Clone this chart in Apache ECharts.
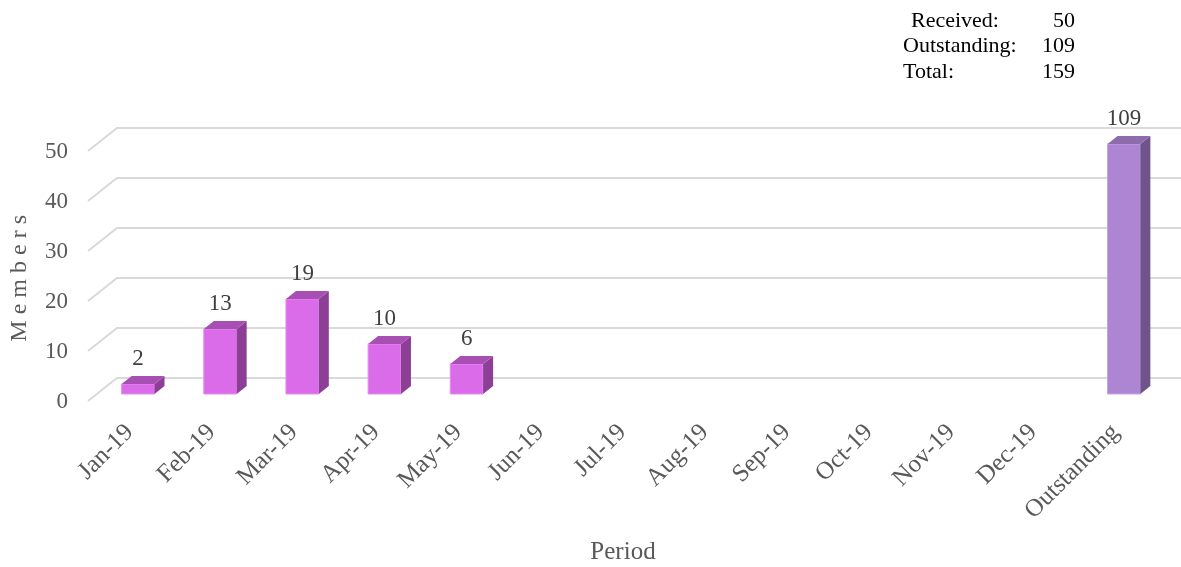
<!DOCTYPE html>
<html>
<head>
<meta charset="utf-8">
<script src="https://cdn.jsdelivr.net/npm/echarts@6/dist/echarts.min.js"></script>
<style>
    html, body { margin: 0; padding: 0; background: #fff; }
    #chart { width: 1181px; height: 567px; }
</style>
</head>
<body>
<div id="chart"></div>
<script>
// Data
var periods = ['Jan-19', 'Feb-19', 'Mar-19', 'Apr-19', 'May-19', 'Jun-19', 'Jul-19',
    'Aug-19', 'Sep-19', 'Oct-19', 'Nov-19', 'Dec-19', 'Outstanding'];
var receivedValues = [2, 13, 19, 10, 6, null, null, null, null, null, null, null, null];
var outstandingValues = [null, null, null, null, null, null, null, null, null, null, null, null, 109];
var yTicks = [0, 10, 20, 30, 40, 50];
var summaryLabels = ['Received:', 'Outstanding:', 'Total:'];
var summaryValues = [50, 109, 159];

var fontName = '"Liberation Serif", "DejaVu Serif", serif';
var yMax = 50;
var depthX = 10, depthY = 8;

var chart_element = document.getElementById('chart');
var chart = echarts.init(chart_element);

// 3D-looking bar drawn on the category/value axes
var makeBarRender = function (colors) {
    return function (params, api) {
        var v = api.value(1);
        if (v == null || isNaN(v)) {
            return null;
        }
        var base = api.coord([api.value(0), 0]);
        var top = api.coord([api.value(0), Math.min(v, yMax)]);
        var w = api.size([1, 0])[0] * 0.4;
        var x0 = base[0] - w / 2, x1 = base[0] + w / 2;
        var y0 = base[1], y1 = top[1];
        return {
            type: 'group',
            children: [
                {
                    type: 'rect',
                    shape: { x: x0, y: y1, width: w, height: y0 - y1 },
                    style: { fill: colors.front, stroke: colors.edge, lineWidth: 1 }
                },
                {
                    type: 'polygon',
                    shape: { points: [[x1, y1], [x1 + depthX, y1 - depthY], [x1 + depthX, y0 - depthY], [x1, y0]] },
                    style: { fill: colors.side }
                },
                {
                    type: 'polygon',
                    shape: { points: [[x0, y1], [x0 + depthX, y1 - depthY], [x1 + depthX, y1 - depthY], [x1, y1]] },
                    style: { fill: colors.top }
                },
                {
                    type: 'text',
                    style: {
                        x: base[0], y: y1 - depthY - 17,
                        text: String(v),
                        fill: '#404040',
                        font: '23px ' + fontName,
                        align: 'center',
                        verticalAlign: 'middle'
                    }
                }
            ]
        };
    };
};

// Gridlines with side wall (drawn behind the bars)
var gridRender = function (params, api) {
    var cs = params.coordSys;
    var yf = api.coord([0, api.value(1)])[1];
    return {
        type: 'polyline',
        shape: {
            points: [
                [cs.x - 9, yf + 7],
                [cs.x + 20, yf - 16],
                [cs.x + cs.width + 30, yf - 16]
            ]
        },
        style: { stroke: '#d9d9d9', lineWidth: 2, fill: null }
    };
};

var summaryText = [];
summaryLabels.forEach(function (lab, i) {
    summaryText.push({
        type: 'text',
        left: i === 0 ? 911 : 903,
        top: 10 + i * 25.5,
        style: { text: lab, fill: '#000', font: '22px ' + fontName }
    });
    summaryText.push({
        type: 'text',
        right: 106,
        top: 10 + i * 25.5,
        style: { text: String(summaryValues[i]), fill: '#000', font: '22px ' + fontName, align: 'right' }
    });
});
summaryText.push({
    type: 'text',
    left: 8,
    top: 215,
    rotation: Math.PI / 2,
    style: { text: 'M e m b e r s', fill: '#595959', font: '24px ' + fontName }
});

chart.setOption({
    animation: false,
    textStyle: {
        fontFamily: fontName
    },
    grid: {
        left: 97,
        right: 16,
        top: 144,
        bottom: 173,
        containLabel: false,
        outerBoundsMode: 'none'
    },
    graphic: summaryText,
    xAxis: {
        type: 'category',
        data: periods,
        name: 'Period',
        nameLocation: 'middle',
        nameGap: 146,
        nameTextStyle: { color: '#595959', fontSize: 25, fontFamily: fontName, padding: [0, 16, 0, 0] },
        axisLine: { show: false },
        axisTick: { show: false },
        axisLabel: {
            rotate: 45,
            margin: 26,
            interval: 0,
            color: '#595959',
            fontSize: 25,
            fontFamily: fontName,
            padding: [0, 12, 0, 0]
        }
    },
    yAxis: {
        type: 'value',
        min: 0,
        max: yMax,
        interval: 10,
        axisLine: { show: false },
        axisTick: { show: false },
        splitLine: { show: false },
        axisLabel: {
            margin: 29,
            color: '#595959',
            fontSize: 23,
            fontFamily: fontName,
            verticalAlign: 'top',
            lineHeight: 16
        }
    },
    series: [
        {
            type: 'custom',
            name: 'grid',
            z: 1,
            silent: true,
            renderItem: gridRender,
            data: yTicks.map(function (t) { return [0, t]; })
        },
        {
            type: 'custom',
            name: 'Received',
            z: 3,
            renderItem: makeBarRender({ front: '#db6ce9', side: '#8c3f94', top: '#a84fb4', edge: '#e68cf0' }),
            data: receivedValues.map(function (v, i) { return [i, v]; })
        },
        {
            type: 'custom',
            name: 'Outstanding',
            z: 3,
            renderItem: makeBarRender({ front: '#ad85d3', side: '#6f548a', top: '#8e6cab', edge: '#c3a6e0' }),
            data: outstandingValues.map(function (v, i) { return [i, v]; })
        }
    ]
});
</script>
</body>
</html>
